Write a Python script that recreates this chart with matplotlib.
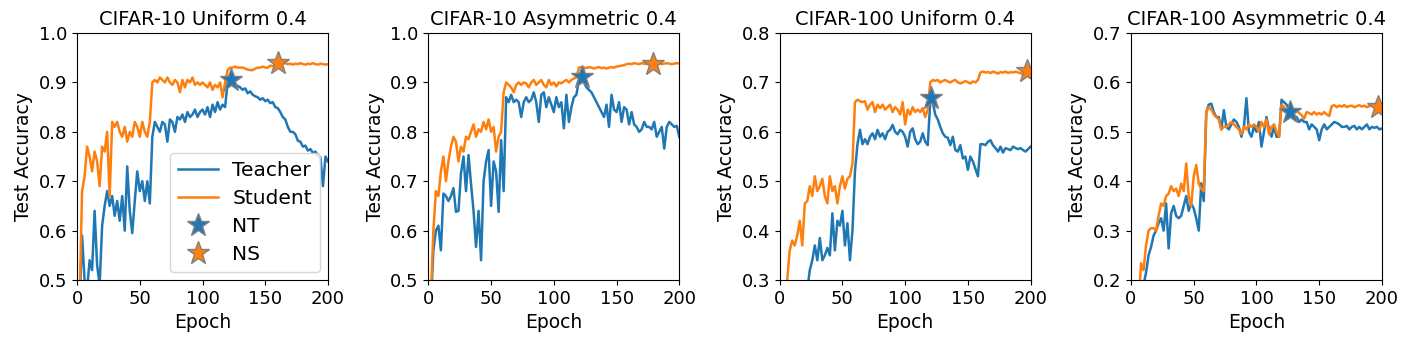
import numpy as np
import matplotlib
matplotlib.use("Agg")
import matplotlib.pyplot as plt

epochs = np.arange(0, 201, 2)

titles = ["CIFAR-10 Uniform 0.4", "CIFAR-10 Asymmetric 0.4",
          "CIFAR-100 Uniform 0.4", "CIFAR-100 Asymmetric 0.4"]
ylims = [(0.5, 1.0), (0.5, 1.0), (0.3, 0.8), (0.2, 0.7)]

teacher_c10u = [0.40, 0.45, 0.59, 0.50, 0.48, 0.54, 0.52, 0.64, 0.53, 0.49,
                0.61, 0.65, 0.68, 0.65, 0.67, 0.63, 0.66, 0.62, 0.67, 0.60,
                0.73, 0.64, 0.595, 0.66, 0.72, 0.68, 0.70, 0.66, 0.70, 0.655,
                0.79, 0.82, 0.81, 0.80, 0.82, 0.815, 0.78, 0.825, 0.82, 0.80,
                0.83, 0.825, 0.835, 0.82, 0.84, 0.83, 0.835, 0.845, 0.83, 0.84,
                0.845, 0.835, 0.85, 0.83, 0.855, 0.84, 0.86, 0.845, 0.855, 0.85,
                0.90, 0.905, 0.90, 0.895, 0.893, 0.89, 0.885, 0.888, 0.878, 0.882,
                0.875, 0.872, 0.87, 0.865, 0.868, 0.862, 0.865, 0.858, 0.86, 0.85,
                0.848, 0.84, 0.83, 0.825, 0.81, 0.80, 0.80, 0.795, 0.782, 0.78,
                0.77, 0.772, 0.762, 0.765, 0.757, 0.76, 0.752, 0.748, 0.69, 0.75,
                0.74]
student_c10u = [0.35, 0.45, 0.68, 0.71, 0.77, 0.75, 0.72, 0.76, 0.74, 0.69,
                0.77, 0.76, 0.80, 0.67, 0.82, 0.81, 0.82, 0.80, 0.79, 0.81,
                0.78, 0.80, 0.79, 0.82, 0.81, 0.79, 0.82, 0.80, 0.79, 0.82,
                0.90, 0.905, 0.90, 0.91, 0.905, 0.90, 0.91, 0.90, 0.895, 0.905,
                0.90, 0.88, 0.905, 0.89, 0.905, 0.90, 0.91, 0.895, 0.90, 0.895,
                0.90, 0.895, 0.89, 0.90, 0.885, 0.895, 0.89, 0.90, 0.87, 0.90,
                0.925, 0.93, 0.93, 0.932, 0.93, 0.93, 0.93, 0.928, 0.926, 0.925,
                0.925, 0.928, 0.93, 0.93, 0.932, 0.93, 0.93, 0.934, 0.933, 0.934,
                0.937, 0.94, 0.938, 0.939, 0.937, 0.938, 0.936, 0.938, 0.937, 0.939,
                0.937, 0.936, 0.938, 0.937, 0.939, 0.937, 0.936, 0.938, 0.937, 0.936,
                0.937]

teacher_c10a = [0.40, 0.45, 0.56, 0.60, 0.61, 0.56, 0.675, 0.67, 0.66, 0.67,
                0.686, 0.638, 0.64, 0.716, 0.75, 0.68, 0.753, 0.695, 0.64, 0.567,
                0.64, 0.54, 0.70, 0.74, 0.763, 0.65, 0.74, 0.72, 0.638, 0.783,
                0.68, 0.87, 0.86, 0.875, 0.86, 0.865, 0.86, 0.83, 0.86, 0.87,
                0.86, 0.865, 0.88, 0.86, 0.82, 0.875, 0.88, 0.85, 0.87, 0.855,
                0.84, 0.87, 0.85, 0.86, 0.807, 0.875, 0.82, 0.85, 0.87, 0.875,
                0.905, 0.91, 0.90, 0.89, 0.885, 0.88, 0.87, 0.86, 0.85, 0.84,
                0.83, 0.855, 0.81, 0.875, 0.845, 0.84, 0.86, 0.82, 0.85, 0.845,
                0.815, 0.84, 0.815, 0.81, 0.80, 0.805, 0.82, 0.81, 0.81, 0.805,
                0.82, 0.79, 0.80, 0.81, 0.766, 0.81, 0.82, 0.815, 0.81, 0.812,
                0.79]
student_c10a = [0.40, 0.47, 0.60, 0.68, 0.67, 0.72, 0.75, 0.70, 0.74, 0.77,
                0.79, 0.78, 0.74, 0.77, 0.76, 0.79, 0.785, 0.80, 0.815, 0.79,
                0.805, 0.80, 0.82, 0.805, 0.825, 0.80, 0.81, 0.76, 0.79, 0.80,
                0.88, 0.90, 0.895, 0.89, 0.88, 0.895, 0.90, 0.895, 0.90, 0.898,
                0.89, 0.90, 0.905, 0.895, 0.90, 0.905, 0.895, 0.89, 0.905, 0.895,
                0.90, 0.892, 0.90, 0.898, 0.902, 0.905, 0.90, 0.905, 0.908, 0.91,
                0.93, 0.931, 0.93, 0.929, 0.931, 0.93, 0.928, 0.93, 0.931, 0.929,
                0.93, 0.928, 0.93, 0.931, 0.93, 0.932, 0.933, 0.934, 0.935, 0.937,
                0.938, 0.937, 0.939, 0.938, 0.937, 0.939, 0.938, 0.937, 0.938, 0.939,
                0.937, 0.938, 0.939, 0.937, 0.938, 0.939, 0.938, 0.937, 0.938, 0.939,
                0.938]

teacher_c100u = [0.25, 0.25, 0.25, 0.25, 0.25, 0.25, 0.25, 0.25, 0.25, 0.25,
                 0.25, 0.28, 0.32, 0.34, 0.37, 0.34, 0.385, 0.34, 0.35, 0.365,
                 0.35, 0.435, 0.36, 0.42, 0.41, 0.44, 0.37, 0.415, 0.34, 0.40,
                 0.52, 0.575, 0.604, 0.575, 0.585, 0.575, 0.59, 0.597, 0.585, 0.604,
                 0.59, 0.597, 0.585, 0.60, 0.604, 0.614, 0.60, 0.595, 0.604, 0.60,
                 0.59, 0.57, 0.60, 0.607, 0.585, 0.575, 0.58, 0.597, 0.58, 0.573,
                 0.66, 0.66, 0.635, 0.625, 0.61, 0.597, 0.59, 0.588, 0.573, 0.59,
                 0.563, 0.56, 0.573, 0.546, 0.55, 0.523, 0.55, 0.54, 0.525, 0.51,
                 0.575, 0.575, 0.573, 0.58, 0.583, 0.573, 0.567, 0.56, 0.57, 0.558,
                 0.567, 0.565, 0.563, 0.57, 0.567, 0.565, 0.567, 0.563, 0.56, 0.565,
                 0.57]
student_c100u = [0.25, 0.25, 0.26, 0.30, 0.36, 0.38, 0.37, 0.39, 0.42, 0.37,
                 0.455, 0.46, 0.49, 0.47, 0.51, 0.48, 0.49, 0.505, 0.47, 0.455,
                 0.51, 0.48, 0.49, 0.455, 0.49, 0.51, 0.485, 0.505, 0.51, 0.535,
                 0.66, 0.665, 0.662, 0.66, 0.662, 0.645, 0.655, 0.66, 0.64, 0.655,
                 0.648, 0.655, 0.645, 0.65, 0.655, 0.64, 0.65, 0.645, 0.635, 0.66,
                 0.615, 0.645, 0.635, 0.65, 0.64, 0.645, 0.64, 0.648, 0.63, 0.645,
                 0.70, 0.705, 0.703, 0.705, 0.70, 0.703, 0.705, 0.702, 0.70, 0.703,
                 0.705, 0.70, 0.698, 0.70, 0.703, 0.70, 0.698, 0.702, 0.70, 0.705,
                 0.72, 0.722, 0.72, 0.721, 0.719, 0.722, 0.72, 0.718, 0.721, 0.72,
                 0.722, 0.719, 0.721, 0.72, 0.722, 0.72, 0.719, 0.716, 0.722, 0.725,
                 0.725]

teacher_c100a = [0.15, 0.15, 0.15, 0.15, 0.15, 0.19, 0.215, 0.25, 0.267, 0.29,
                 0.30, 0.315, 0.325, 0.30, 0.355, 0.264, 0.335, 0.35, 0.33, 0.325,
                 0.33, 0.35, 0.37, 0.34, 0.355, 0.345, 0.325, 0.30, 0.396, 0.36,
                 0.54, 0.555, 0.557, 0.54, 0.53, 0.53, 0.505, 0.544, 0.51, 0.505,
                 0.515, 0.525, 0.52, 0.51, 0.49, 0.51, 0.568, 0.50, 0.49, 0.51,
                 0.50, 0.52, 0.47, 0.50, 0.53, 0.505, 0.49, 0.51, 0.49, 0.49,
                 0.565, 0.56, 0.555, 0.545, 0.54, 0.53, 0.53, 0.52, 0.525, 0.52,
                 0.52, 0.505, 0.515, 0.51, 0.505, 0.483, 0.505, 0.515, 0.505, 0.51,
                 0.515, 0.52, 0.518, 0.515, 0.51, 0.51, 0.512, 0.505, 0.51, 0.512,
                 0.505, 0.51, 0.505, 0.51, 0.515, 0.505, 0.51, 0.508, 0.51, 0.505,
                 0.507]
student_c100a = [0.15, 0.15, 0.15, 0.15, 0.234, 0.22, 0.27, 0.30, 0.305, 0.305,
                 0.30, 0.33, 0.355, 0.35, 0.37, 0.375, 0.39, 0.38, 0.385, 0.37,
                 0.395, 0.38, 0.436, 0.37, 0.35, 0.41, 0.433, 0.395, 0.385, 0.38,
                 0.54, 0.55, 0.545, 0.535, 0.53, 0.525, 0.505, 0.51, 0.51, 0.515,
                 0.52, 0.515, 0.51, 0.505, 0.495, 0.51, 0.505, 0.515, 0.51, 0.515,
                 0.51, 0.50, 0.52, 0.51, 0.525, 0.495, 0.51, 0.515, 0.50, 0.49,
                 0.555, 0.55, 0.54, 0.545, 0.54, 0.545, 0.543, 0.538, 0.534, 0.527,
                 0.54, 0.538, 0.535, 0.54, 0.535, 0.538, 0.535, 0.54, 0.535, 0.532,
                 0.552, 0.554, 0.55, 0.553, 0.551, 0.554, 0.55, 0.552, 0.553, 0.55,
                 0.552, 0.554, 0.551, 0.553, 0.55, 0.552, 0.554, 0.551, 0.55, 0.552,
                 0.553]

teachers = [teacher_c10u, teacher_c10a, teacher_c100u, teacher_c100a]
students = [student_c10u, student_c10a, student_c100u, student_c100a]

nt_epoch = [122.5, 122.5, 120.5, 126.5]
nt_acc = [0.905, 0.91, 0.668, 0.54]
ns_epoch = [160.5, 179, 197, 196.5]
ns_acc = [0.939, 0.937, 0.724, 0.55]

xticks = [0, 50, 100, 150, 200]

fig, axes = plt.subplots(1, 4, figsize=(14.11, 3.44), dpi=100)
fig.subplots_adjust(left=0.0546, right=0.9794, bottom=0.186, top=0.904, wspace=0.4)

for i, ax in enumerate(axes):
    ax.plot(epochs, teachers[i], color="#1f77b4", lw=1.8, label="Teacher")
    ax.plot(epochs, students[i], color="#ff7f0e", lw=1.8, label="Student")
    ax.plot([nt_epoch[i]], [nt_acc[i]], linestyle="none", marker="*", ms=17,
            color="#1f77b4", markeredgecolor="gray", label="NT")
    ax.plot([ns_epoch[i]], [ns_acc[i]], linestyle="none", marker="*", ms=17,
            color="#ff7f0e", markeredgecolor="gray", label="NS")
    ax.set_xlim(0, 200)
    ax.set_ylim(*ylims[i])
    ax.set_xticks(xticks)
    ax.set_yticks(np.round(np.arange(ylims[i][0], ylims[i][1] + 1e-9, 0.1), 1))
    ax.tick_params(labelsize=13)
    ax.set_title(titles[i], fontsize=14)
    ax.set_xlabel("Epoch", fontsize=13.5)
    ax.set_ylabel("Test Accuracy", fontsize=13.5)

axes[0].legend(loc="lower right", fontsize=14.5, labelspacing=0.45,
               borderaxespad=0.4, handletextpad=0.7)

fig.savefig("out.png", dpi=100)
